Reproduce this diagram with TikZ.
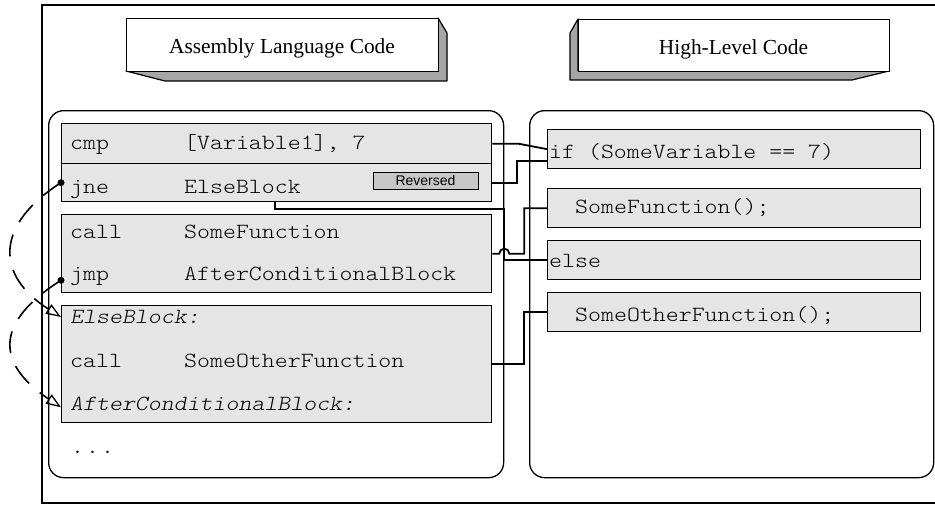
\documentclass[tikz,border=0pt]{standalone}
\usepackage{fontspec}
\setmainfont{Liberation Serif}
\setsansfont{Liberation Sans}
\newfontfamily\codefont{lmmonolt10-regular.otf}[FakeStretch=1.142, ItalicFont=lmmonolt10-oblique.otf]
\usetikzlibrary{arrows.meta,calc}
\begin{document}
\begin{tikzpicture}[x=1pt,y=-1pt,
  panel/.style={draw=black, line width=1.3pt, rounded corners=15pt, inner sep=0pt, anchor=north west},
  codebox/.style={draw=black, line width=1.3pt, fill=black!10, inner sep=0pt, anchor=north west},
  titlefront/.style={draw=black, line width=1.3pt, fill=white, inner sep=0pt, anchor=north west},
  titleshade/.style={draw=black, line width=1.2pt, fill=black!35, line join=round},
  mono/.style={font=\fontsize{21.6}{24}\selectfont\codefont, inner sep=0pt, anchor=base west},
  monoit/.style={mono, font=\fontsize{21.6}{24}\selectfont\codefont\itshape},
  titletext/.style={font=\fontsize{21.4}{24}\selectfont\rmfamily, inner sep=0pt, anchor=base},
  badge/.style={draw=black, line width=1pt, fill=black!22, inner sep=0pt, font=\fontsize{14}{16}\selectfont\sffamily},
  wire/.style={line width=1.8pt},
  jumpline/.style={line width=1.6pt, dash pattern=on 22pt off 14pt, -{Triangle[open,length=15pt,width=11pt,line width=1.3pt]}}
]
\useasboundingbox (0,0) rectangle (935,504);

% outer frame
\draw[line width=1.6pt] (936,5) -- (42,5) -- (42,503) -- (936,503);

% title boxes
\draw[titleshade] (438,18) -- (447,33) -- (447,81) -- (165,81) -- (126,71) -- (438,71) -- cycle;
\node[titlefront, minimum width=312pt, minimum height=53pt] (asmbox) at (126,18) {};
\node[titletext] (asmtxt) at (282,53) {Assembly Language Code};

\draw[titleshade] (578,19) -- (570,33) -- (570,80) -- (852,80) -- (889,71) -- (578,71) -- cycle;
\node[titlefront, minimum width=311pt, minimum height=52pt] (hlbox) at (578,19) {};
\node[titletext] (hltxt) at (733.5,54) {High-Level Code};

% panels
\node[panel, minimum width=455pt, minimum height=367pt] (leftpanel) at (48,110) {};
\node[panel, minimum width=404pt, minimum height=367pt] (rightpanel) at (529,110) {};

% assembly boxes
\node[codebox, minimum width=430pt, minimum height=40pt] (cmp) at (61,123) {};
\node[codebox, minimum width=430pt, minimum height=38pt] (jne) at (61,163) {};
\node[codebox, minimum width=430pt, minimum height=78pt] (callb) at (61,214) {};
\node[codebox, minimum width=430pt, minimum height=117pt] (elseb) at (61,305) {};
\node[badge, minimum width=105pt, minimum height=17pt] (rev) at (425.5,180.5) {Reversed};

% high-level boxes
\node[codebox, minimum width=373pt, minimum height=39pt] (ifb) at (547,129) {};
\node[codebox, minimum width=373pt, minimum height=39pt] (sfb) at (547,188) {};
\node[codebox, minimum width=373pt, minimum height=39pt] (elb) at (547,240) {};
\node[codebox, minimum width=373pt, minimum height=39pt] (sofb) at (547,292) {};

% assembly text
\node[mono] (a1) at (70,149) {cmp};
\node[mono] (a2) at (184,149) {[Variable1], 7};
\node[mono] (a3) at (70,193) {jne};
\node[mono] (a4) at (184,193) {ElseBlock};
\node[mono] (a5) at (70,238) {call};
\node[mono] (a6) at (184,238) {SomeFunction};
\node[mono] (a7) at (70,280) {jmp};
\node[mono] (a8) at (184,280) {AfterConditionalBlock};
\node[monoit] (a9) at (70,323) {ElseBlock:};
\node[mono] (a10) at (70,367) {call};
\node[mono] (a11) at (184,367) {SomeOtherFunction};
\node[monoit] (a12) at (70,410) {AfterConditionalBlock:};
\node[mono] (a13) at (71,453) {.\kern2pt.\kern2pt.};

% high-level text
\node[mono] (h1) at (549,158) {if (SomeVariable == 7)};
\node[mono] (h2) at (575,213) {SomeFunction();};
\node[mono] (h3) at (549,267) {else};
\node[mono] (h4) at (575,321) {SomeOtherFunction();};

% connectors
\draw[wire] (cmp.east) -- ++(26,0) -- (ifb.west);
\draw[wire] (jne.east) -- ++(25,0) |- ($(ifb.south west)+(0,-8)$);
\coordinate (eb) at ($(jne.south west)+(214,0)$);
\coordinate (rail) at ($(leftpanel.north east)+(0,99)$);
\draw[wire] (eb) |- (rail) |- (elb.west);
\draw[wire] (callb.east) -- ++(7,0) arc[start angle=180, end angle=0, radius=5pt] -- ++(15,0) |- (sfb.west);
\draw[wire] (elseb.east) -- ++(32,0) |- (sofb.west);

% jumps
\coordinate (jneDot) at (jne.west);
\coordinate (elseTgt) at ($(elseb.north west)+(0,12)$);
\coordinate (jmpDot) at ($(callb.south west)+(0,-13)$);
\coordinate (afterTgt) at ($(elseb.south west)+(0,-16)$);
\draw[jumpline] (jneDot) .. controls (-5,225) and (-5,275) .. (elseTgt);
\draw[jumpline] (jmpDot) .. controls (-5,322) and (-5,363) .. (afterTgt);
\fill (jneDot) circle (3.5pt);
\fill (jmpDot) circle (3.5pt);
\end{tikzpicture}
\end{document}
